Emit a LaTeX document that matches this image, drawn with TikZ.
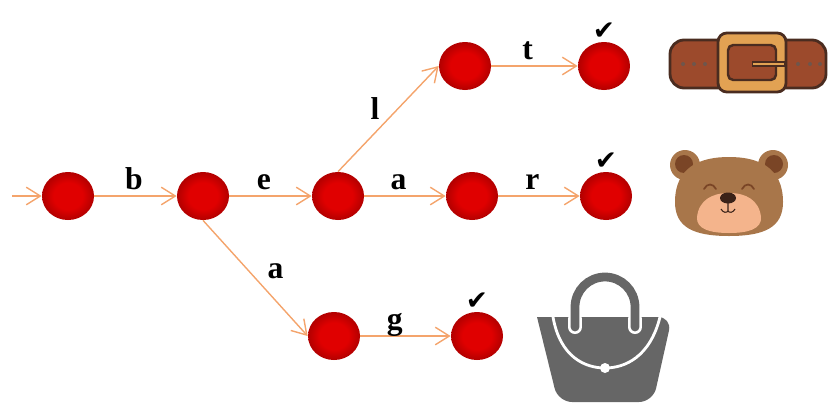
\documentclass[tikz,border=0pt]{standalone}
\usepackage{fontspec}
\setmainfont{Liberation Serif}
\newfontfamily\symfont{DejaVu Sans}
\usetikzlibrary{arrows.meta,positioning,shapes.geometric}
\definecolor{Sc}{HTML}{E00000}
\definecolor{Sd}{HTML}{B20000}
\definecolor{Ec}{HTML}{F4A46C}
\definecolor{beltc}{HTML}{9C4A2C}
\definecolor{beltline}{HTML}{4A2C20}
\definecolor{buckc}{HTML}{E2A253}
\definecolor{bearc}{HTML}{A8764A}
\definecolor{earc}{HTML}{7A4526}
\definecolor{snoutc}{HTML}{F4B48C}
\definecolor{nosec}{HTML}{3A2218}
\definecolor{bagc}{HTML}{666666}
\pgfdeclareradialshading{redball}{\pgfpoint{0bp}{0bp}}{color(0bp)=(Sc); color(14bp)=(Sc); color(25bp)=(Sd); color(50bp)=(Sd)}
\tikzset{
  st/.style={ellipse, inner sep=0pt, minimum width=1.04cm, minimum height=0.96cm, shading=redball},
  tr/.style={draw=Ec, line width=0.8pt, -{Straight Barb[length=8pt,width=10pt]}},
  lbl/.style={font=\fontsize{18}{20}\selectfont\bfseries, inner sep=2pt, text height=1.5ex, text depth=.25ex},
  tick/.style={font=\symfont\fontsize{15}{16}\selectfont, inner sep=0pt},
}

\begin{document}
\begin{tikzpicture}[x=0.2mm,y=0.2mm]
  \useasboundingbox (0,0) rectangle (830,407);
  % states
  \node[st] (n0) at (68,211) {};
  \node[st] (n1) at (203,211) {};
  \node[st] (n2) at (338,211) {};
  \node[st] (n3) at (465,341) {};
  \node[st] (n4) at (604,341) {};
  \node[st] (n5) at (472,211) {};
  \node[st] (n6) at (606,211) {};
  \node[st] (n7) at (334,71) {};
  \node[st] (n8) at (477,71) {};
  \coordinate (in) at (12,211);
  % transitions
  \draw[tr] (in) -- (n0);
  \draw[tr] (n0) -- node[lbl,above,pos=0.48] (lb) {b} (n1);
  \draw[tr] (n1) -- node[lbl,above,pos=0.42] (le) {e} (n2);
  \draw[tr] (n2.north) -- node[lbl,left=5pt,pos=0.54] (ll) {l} (n3.west);
  \draw[tr] (n3) -- node[lbl,above,pos=0.42] (lt) {t} (n4);
  \draw[tr] (n2) -- node[lbl,above,pos=0.42] (la) {a} (n5);
  \draw[tr] (n5) -- node[lbl,above,pos=0.42] (lr) {r} (n6);
  \draw[tr] (n1.south) -- node[lbl,right=7pt,pos=0.46] (la2) {a} (n7.west);
  \draw[tr] (n7) -- node[lbl,above,pos=0.38] (lg) {g} (n8);
  % accepting marks
  \node[tick, above=1pt of n4] (c4) {✔};
  \node[tick, above=1pt of n6] (c6) {✔};
  \node[tick, above=1pt of n8] (c8) {✔};
  % belt
  \draw[fill=beltc, draw=beltline, line width=1.6pt, rounded corners=8] (670,319) rectangle (826,367);
  \foreach \hx in {683,694,705,798,810,820} \fill[beltline!80] (\hx,343) circle (2);
  \draw[fill=buckc, draw=beltline, line width=1.6pt, rounded corners=5] (718,315) rectangle (786,374);
  \draw[fill=beltc, draw=beltline, line width=1.4pt, rounded corners=3] (728,327) rectangle (776,362);
  \draw[beltline, line width=3pt] (752,343) -- (785,343);
  \draw[buckc, line width=1.2pt] (753,343) -- (784,343);
  % bear
  \fill[bearc] (685,242) circle (15) (773,242) circle (15);
  \fill[earc] (684,243) circle (9) (774,243) circle (9);
  \fill[bearc] (675,205) .. controls (675,240) and (700,250) .. (729,250)
    .. controls (758,250) and (783,240) .. (783,205)
    .. controls (783,180) and (765,171) .. (729,171)
    .. controls (693,171) and (675,180) .. (675,205);
  \fill[snoutc] (697,190) .. controls (699,207) and (712,214) .. (729,214)
    .. controls (746,214) and (759,207) .. (761,190)
    .. controls (762,178) and (748,174) .. (729,174)
    .. controls (710,174) and (696,178) .. (697,190);
  \fill[nosec] (728,209) ellipse (8 and 5.5);
  \draw[nosec, line width=0.6pt] (728,205) -- (728,196)
    (721,198) .. controls (723,194) and (727,194) .. (728,196)
    .. controls (729,194) and (733,194) .. (735,198);
  \draw[earc, line width=1pt, line cap=round]
    (704,218) .. controls (707,224) and (713,224) .. (716,218)
    (742,218) .. controls (745,224) and (751,224) .. (754,218);
  % bag
  \draw[white, line width=8pt, line cap=round] (575,80) -- (575,100) arc (180:0:30) -- (635,80);
  \fill[bagc, rounded corners=8] (558,5) -- (653,5) -- (672,90) [sharp corners] -- (537,90) [rounded corners=8] -- cycle;
  \draw[white, line width=8pt, line cap=round] (575,80) -- (575,88) (635,80) -- (635,88);
  \draw[bagc, line width=5pt, line cap=round] (575,80) -- (575,100) arc (180:0:30) -- (635,80);
  \draw[white, line width=1.6pt] (553,90) .. controls (560,50) and (585,39) .. (605,39)
    .. controls (625,39) and (650,50) .. (660,90);
  \fill[white] (605,39) circle (5);
\end{tikzpicture}
\end{document}
